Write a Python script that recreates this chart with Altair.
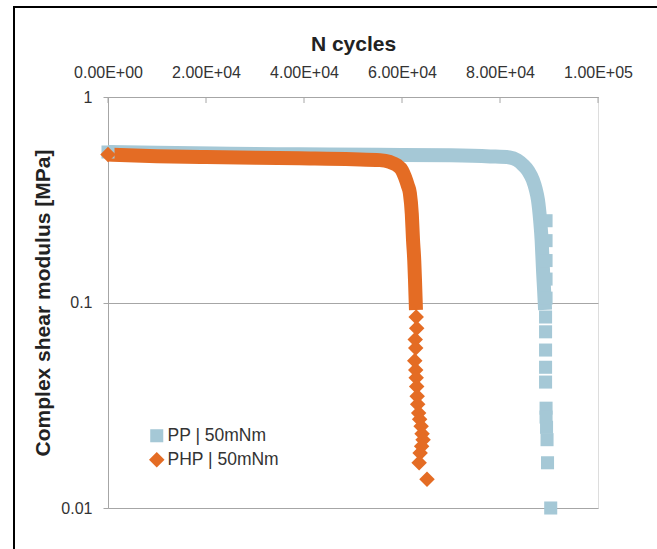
import altair as alt
import pandas as pd

series_names = ["PP | 50mNm", "PHP | 50mNm"]
series_colors = ["#A5C8D6", "#E46C24"]
series_shapes = ["square", "diamond"]
series_sizes = [170, 240]

# PP | 50mNm : main curve
pp_curve_cycles = [0, 10000, 25000, 39000, 55000, 70000, 78000, 82000, 83500, 84700,
                   85800, 86700, 87300, 87750, 88200, 88500, 88800, 89000, 89200]
pp_curve_modulus = [0.54, 0.535, 0.53, 0.526, 0.523, 0.52, 0.514, 0.508, 0.493, 0.467,
                    0.435, 0.395, 0.355, 0.315, 0.25, 0.2, 0.14, 0.115, 0.092]
# PP individual markers (start + failure tail)
pp_mark_cycles = [0, 89400, 89400, 89400, 89400, 89400, 89300, 89300, 89300, 89300,
                  89300, 89400, 89400, 89500, 89600, 89700, 90350]
pp_mark_modulus = [0.54, 0.25, 0.2, 0.16, 0.13, 0.105, 0.085, 0.072, 0.0587, 0.0484,
                   0.041, 0.0306, 0.0277, 0.0247, 0.0215, 0.0166, 0.0100]

# PHP | 50mNm : main curve
php_curve_cycles = [0, 10000, 20000, 39000, 50000, 55500, 57500, 59000, 60000, 60600,
                    61200, 61600, 62000, 62250, 62500, 62650, 62850]
php_curve_modulus = [0.525, 0.515, 0.51, 0.503, 0.498, 0.493, 0.483, 0.465, 0.44, 0.408,
                     0.37, 0.341, 0.27, 0.201, 0.16, 0.129, 0.092]
# PHP individual markers (start + failure tail)
php_mark_cycles = [0, 62900, 63000, 62700, 62800, 62600, 62800, 62900, 63000, 63100,
                   63200, 63400, 63600, 63900, 64100, 64300, 64000, 63700, 63500, 65100]
php_mark_modulus = [0.525, 0.085, 0.075, 0.066, 0.06, 0.052, 0.047, 0.043, 0.039, 0.035,
                    0.032, 0.029, 0.027, 0.025, 0.023, 0.0215, 0.02, 0.0185, 0.0166, 0.0138]

x_ticks = [0, 20000, 40000, 60000, 80000, 100000]
y_ticks = [0.01, 0.1, 1]

curve_df = pd.concat([
    pd.DataFrame({"cycles": pp_curve_cycles, "modulus": pp_curve_modulus, "series": series_names[0]}),
    pd.DataFrame({"cycles": php_curve_cycles, "modulus": php_curve_modulus, "series": series_names[1]}),
])
mark_df = pd.concat([
    pd.DataFrame({"cycles": pp_mark_cycles, "modulus": pp_mark_modulus, "series": series_names[0]}),
    pd.DataFrame({"cycles": php_mark_cycles, "modulus": php_mark_modulus, "series": series_names[1]}),
])
tick_df = pd.DataFrame({"cycles": x_ticks})

FONT = "Liberation Sans"

x_enc = alt.X(
    "cycles:Q",
    scale=alt.Scale(domain=[0, 100000], nice=False, zero=False),
    axis=alt.Axis(
        orient="top", values=x_ticks, title="N cycles", grid=False, ticks=False,
        labelExpr="replace(upper(format(datum.value, '.2e')), 'E+', 'E+0')",
        labelPadding=17, titlePadding=10, labelFontSize=16, titleFontSize=21,
        labelColor="#333333", titleColor="#222222", domainColor="#A6A6A6",
        labelFont=FONT, titleFont=FONT, titleFontWeight="bold", labelFlush=False,
    ),
)
y_enc = alt.Y(
    "modulus:Q",
    scale=alt.Scale(type="log", domain=[0.01, 1], nice=False),
    axis=alt.Axis(
        values=y_ticks, title="Complex shear modulus [MPa]", grid=True,
        gridColor="#A6A6A6", domainColor="#A6A6A6", tickColor="#A6A6A6", tickSize=5,
        labelExpr="datum.value >= 1 ? '1' : datum.value >= 0.1 ? '0.1' : '0.01'",
        labelPadding=11, titlePadding=7, labelFontSize=16, titleFontSize=21,
        labelColor="#333333", titleColor="#222222", labelFont=FONT, titleFont=FONT,
        titleFontWeight="bold", labelFlush=False,
    ),
)

frame = alt.Chart(alt.Data(values=[{}])).mark_rule(color="black", strokeWidth=2).encode(
    x=alt.value(-94), y=alt.value(-90), y2=alt.value(460)
)
frame_top = alt.Chart(alt.Data(values=[{}])).mark_rule(color="black", strokeWidth=2).encode(
    x=alt.value(-95), x2=alt.value(560), y=alt.value(-90)
)

pp_line = alt.Chart(curve_df).transform_filter(
    alt.datum.series == series_names[0]
).mark_line(color=series_colors[0], strokeWidth=14, interpolate="monotone").encode(
    x=x_enc, y=y_enc
)
php_line = alt.Chart(curve_df).transform_filter(
    alt.datum.series == series_names[1]
).mark_line(color=series_colors[1], strokeWidth=14, interpolate="monotone").encode(
    x="cycles:Q", y="modulus:Q"
)

legend_cfg = dict(title=None, orient="none", legendX=40, legendY=330,
                  symbolSize=110, labelFontSize=17.5, labelFont=FONT,
                  labelColor="#333333", rowPadding=5, labelOffset=2,
                  symbolStrokeWidth=0)

points = alt.Chart(mark_df).mark_point(filled=True, opacity=1, strokeWidth=0).encode(
    x="cycles:Q",
    y="modulus:Q",
    color=alt.Color("series:N", scale=alt.Scale(domain=series_names, range=series_colors),
                    legend=alt.Legend(**legend_cfg)),
    shape=alt.Shape("series:N", scale=alt.Scale(domain=series_names, range=series_shapes),
                    legend=alt.Legend(**legend_cfg)),
    size=alt.Size("series:N", scale=alt.Scale(domain=series_names, range=series_sizes),
                  legend=None),
)

top_ticks = alt.Chart(tick_df).mark_rule(color="#A6A6A6", strokeWidth=1).encode(
    x="cycles:Q", y=alt.value(0), y2=alt.value(6)
)

chart = alt.layer(frame, frame_top, pp_line, php_line, points, top_ticks).properties(
    width=490, height=411,
    autosize=alt.AutoSizeParams(type="none"),
    padding={"left": 108, "top": 97, "right": 59, "bottom": 41},
).configure_view(stroke=None).configure(background="white")

chart.save("out.html", embed_options={"renderer": "svg", "actions": False})
